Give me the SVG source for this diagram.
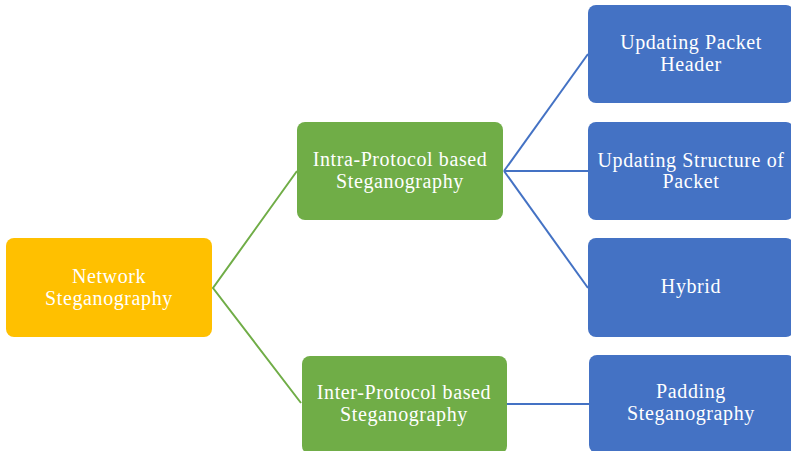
<svg xmlns="http://www.w3.org/2000/svg" width="791" height="451" viewBox="0 0 791 451">
<style>
.t{font-family:"Liberation Serif","Times New Roman",serif;font-size:20px;letter-spacing:0.6px;fill:#ffffff;text-anchor:middle}
.y{fill:#FFC000}
.g{fill:#70AD47}
.b{fill:#4472C4}
.cg{stroke:#70AD47;stroke-width:2;fill:none}
.cb{stroke:#4472C4;stroke-width:2;fill:none}
</style>
<rect width="791" height="451" fill="#ffffff"/>
<g id="connectors">
<polyline class="cg" points="297,171 213,288 301,403"/>
<line class="cb" x1="504" y1="171" x2="588" y2="54"/>
<line class="cb" x1="504" y1="171" x2="588" y2="171"/>
<line class="cb" x1="504" y1="171" x2="588" y2="288"/>
<line class="cb" x1="507" y1="404" x2="589" y2="404"/>
</g>
<g id="network">
<rect class="y" x="6" y="238" width="206" height="99" rx="8"/>
<text class="t" x="109" y="283">Network</text>
<text class="t" x="109" y="305">Steganography</text>
</g>
<g id="intra">
<rect class="g" x="297" y="122" width="206" height="98" rx="8"/>
<text class="t" x="400" y="166">Intra-Protocol based</text>
<text class="t" x="400" y="188">Steganography</text>
</g>
<g id="inter">
<rect class="g" x="302" y="356" width="205" height="98" rx="8"/>
<text class="t" x="404" y="399">Inter-Protocol based</text>
<text class="t" x="404" y="421">Steganography</text>
</g>
<g id="header">
<rect class="b" x="588" y="5" width="206" height="98" rx="8"/>
<text class="t" x="691" y="49">Updating Packet</text>
<text class="t" x="691" y="71">Header</text>
</g>
<g id="structure">
<rect class="b" x="588" y="122" width="206" height="98" rx="8"/>
<text class="t" x="691" y="167">Updating Structure of</text>
<text class="t" x="691" y="188">Packet</text>
</g>
<g id="hybrid">
<rect class="b" x="588" y="238" width="206" height="99" rx="8"/>
<text class="t" x="691" y="293">Hybrid</text>
</g>
<g id="padding">
<rect class="b" x="589" y="355" width="206" height="98" rx="8"/>
<text class="t" x="691" y="398">Padding</text>
<text class="t" x="691" y="420">Steganography</text>
</g>
</svg>
